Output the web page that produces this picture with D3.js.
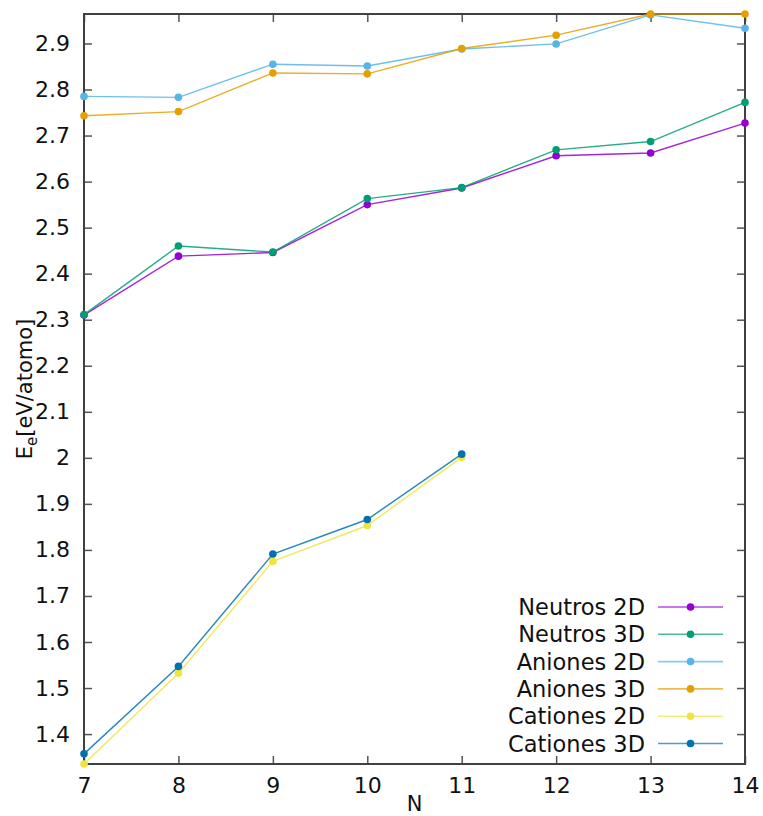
<!DOCTYPE html>
<html>
<head>
<meta charset="utf-8">
<script src="https://cdn.jsdelivr.net/npm/d3@7"></script>
<style>
  html, body { margin: 0; padding: 0; background: #fff; }
  svg { display: block; font-family: "DejaVu Sans", sans-serif; }
</style>
</head>
<body>
<svg id="chart" width="763" height="816"></svg>
<script>
// Cluster size N
const N = [7, 8, 9, 10, 11, 12, 13, 14];

// Binding energy per atom, E_e [eV/atomo]
const neutros2D  = [2.310, 2.438, 2.446, 2.550, 2.586, 2.656, 2.662, 2.727];
const neutros3D  = [2.311, 2.460, 2.447, 2.563, 2.587, 2.669, 2.687, 2.772];
const aniones2D  = [2.785, 2.783, 2.855, 2.851, 2.888, 2.899, 2.962, 2.933];
const aniones3D  = [2.743, 2.752, 2.836, 2.834, 2.889, 2.918, 2.964, 2.964];
const cationes2D = [1.335, 1.532, 1.775, 1.853, 2.001];
const cationes3D = [1.357, 1.547, 1.791, 1.866, 2.008];

const seriesNames  = ["Neutros 2D", "Neutros 3D", "Aniones 2D", "Aniones 3D", "Cationes 2D", "Cationes 3D"];
const seriesColors = ["#9400d3", "#009e73", "#56b4e9", "#e69f00", "#f0e442", "#0072b2"];

const xTicks = [7, 8, 9, 10, 11, 12, 13, 14];
const xTickLabels = ["7", "8", "9", "10", "11", "12", "13", "14"];
const yTicks = [1.4, 1.5, 1.6, 1.7, 1.8, 1.9, 2.0, 2.1, 2.2, 2.3, 2.4, 2.5, 2.6, 2.7, 2.8, 2.9];
const yTickLabels = ["1.4", "1.5", "1.6", "1.7", "1.8", "1.9", "2", "2.1", "2.2", "2.3", "2.4", "2.5", "2.6", "2.7", "2.8", "2.9"];

const seriesValues = [neutros2D, neutros3D, aniones2D, aniones3D, cationes2D, cationes3D];
const series = seriesNames.map((name, i) => ({
  name,
  color: seriesColors[i],
  points: seriesValues[i].map((v, j) => ({ n: N[j], v }))
}));

const W = 763, H = 816;
const margin = { top: 14, right: 18, bottom: 52, left: 84 };
const svg = d3.select("#chart");

const x = d3.scaleLinear().domain([7, 14]).range([margin.left, W - margin.right]);
const y = d3.scaleLinear()
  .domain(d3.extent(seriesValues.flat()))
  .range([H - margin.bottom, margin.top]);

const axisColor = "#404040";
const tickLen = 8;
const fontSize = 22;

// Inward ticks on all four sides
const axes = [
  { axis: d3.axisBottom(x).tickValues(xTicks).tickFormat((d, i) => xTickLabels[i]).tickSizeInner(-tickLen).tickSizeOuter(0).tickPadding(13), t: `translate(0,${H - margin.bottom})`, labels: true },
  { axis: d3.axisTop(x).tickValues(xTicks).tickSizeInner(-tickLen).tickSizeOuter(0), t: `translate(0,${margin.top})`, labels: false },
  { axis: d3.axisLeft(y).tickValues(yTicks).tickFormat((d, i) => yTickLabels[i]).tickSizeInner(-tickLen).tickSizeOuter(0).tickPadding(14), t: `translate(${margin.left},0)`, labels: true },
  { axis: d3.axisRight(y).tickValues(yTicks).tickSizeInner(-tickLen).tickSizeOuter(0), t: `translate(${W - margin.right},0)`, labels: false }
];
axes.forEach(a => {
  const g = svg.append("g").attr("transform", a.t).call(a.axis);
  g.select(".domain").remove();
  g.selectAll(".tick line").attr("stroke", "#555").attr("stroke-width", 1.5);
  g.selectAll(".tick text")
    .attr("fill", "#111")
    .style("font-size", fontSize + "px")
    .style("font-family", "DejaVu Sans, sans-serif");
  if (!a.labels) g.selectAll(".tick text").remove();
});

// Plot border
svg.append("rect")
  .attr("x", margin.left).attr("y", margin.top)
  .attr("width", W - margin.left - margin.right)
  .attr("height", H - margin.top - margin.bottom)
  .attr("fill", "none")
  .attr("stroke", axisColor)
  .attr("stroke-width", 2);

// Series lines and markers
const line = d3.line().x(d => x(d.n)).y(d => y(d.v));
series.forEach(s => {
  const g = svg.append("g");
  g.append("path")
    .datum(s.points)
    .attr("d", line)
    .attr("fill", "none")
    .attr("stroke", s.color)
    .attr("stroke-width", 1.4)
    .attr("stroke-opacity", 0.85);
  g.selectAll("circle")
    .data(s.points)
    .join("circle")
    .attr("cx", d => x(d.n))
    .attr("cy", d => y(d.v))
    .attr("r", 3.8)
    .attr("fill", s.color);
});

// Legend
const legX = 645, legY0 = 607, legDy = 27.3;
const leg = svg.append("g");
series.forEach((s, i) => {
  const yy = legY0 + i * legDy;
  leg.append("text")
    .attr("x", legX).attr("y", yy)
    .attr("dy", "0.36em")
    .attr("text-anchor", "end")
    .attr("fill", "#111")
    .style("font-size", "22.5px")
    .text(s.name);
  leg.append("line")
    .attr("x1", 658).attr("x2", 723)
    .attr("y1", yy).attr("y2", yy)
    .attr("stroke", s.color)
    .attr("stroke-width", 1.6)
    .attr("stroke-opacity", 0.7);
  leg.append("circle")
    .attr("cx", 690.5).attr("cy", yy)
    .attr("r", 3.8)
    .attr("fill", s.color);
});

// Axis titles
svg.append("text")
  .attr("x", x(10.5)).attr("y", 811)
  .attr("text-anchor", "middle")
  .attr("fill", "#111")
  .style("font-size", "21px")
  .text("N");

const yTitle = svg.append("text")
  .attr("transform", `translate(32,${(margin.top + H - margin.bottom) / 2}) rotate(-90)`)
  .attr("text-anchor", "middle")
  .attr("fill", "#111")
  .style("font-size", "21px");
yTitle.append("tspan").text("E");
yTitle.append("tspan").attr("dy", 5).style("font-size", "15px").text("e");
yTitle.append("tspan").attr("dy", -5).text("[eV/atomo]");
</script>
</body>
</html>
